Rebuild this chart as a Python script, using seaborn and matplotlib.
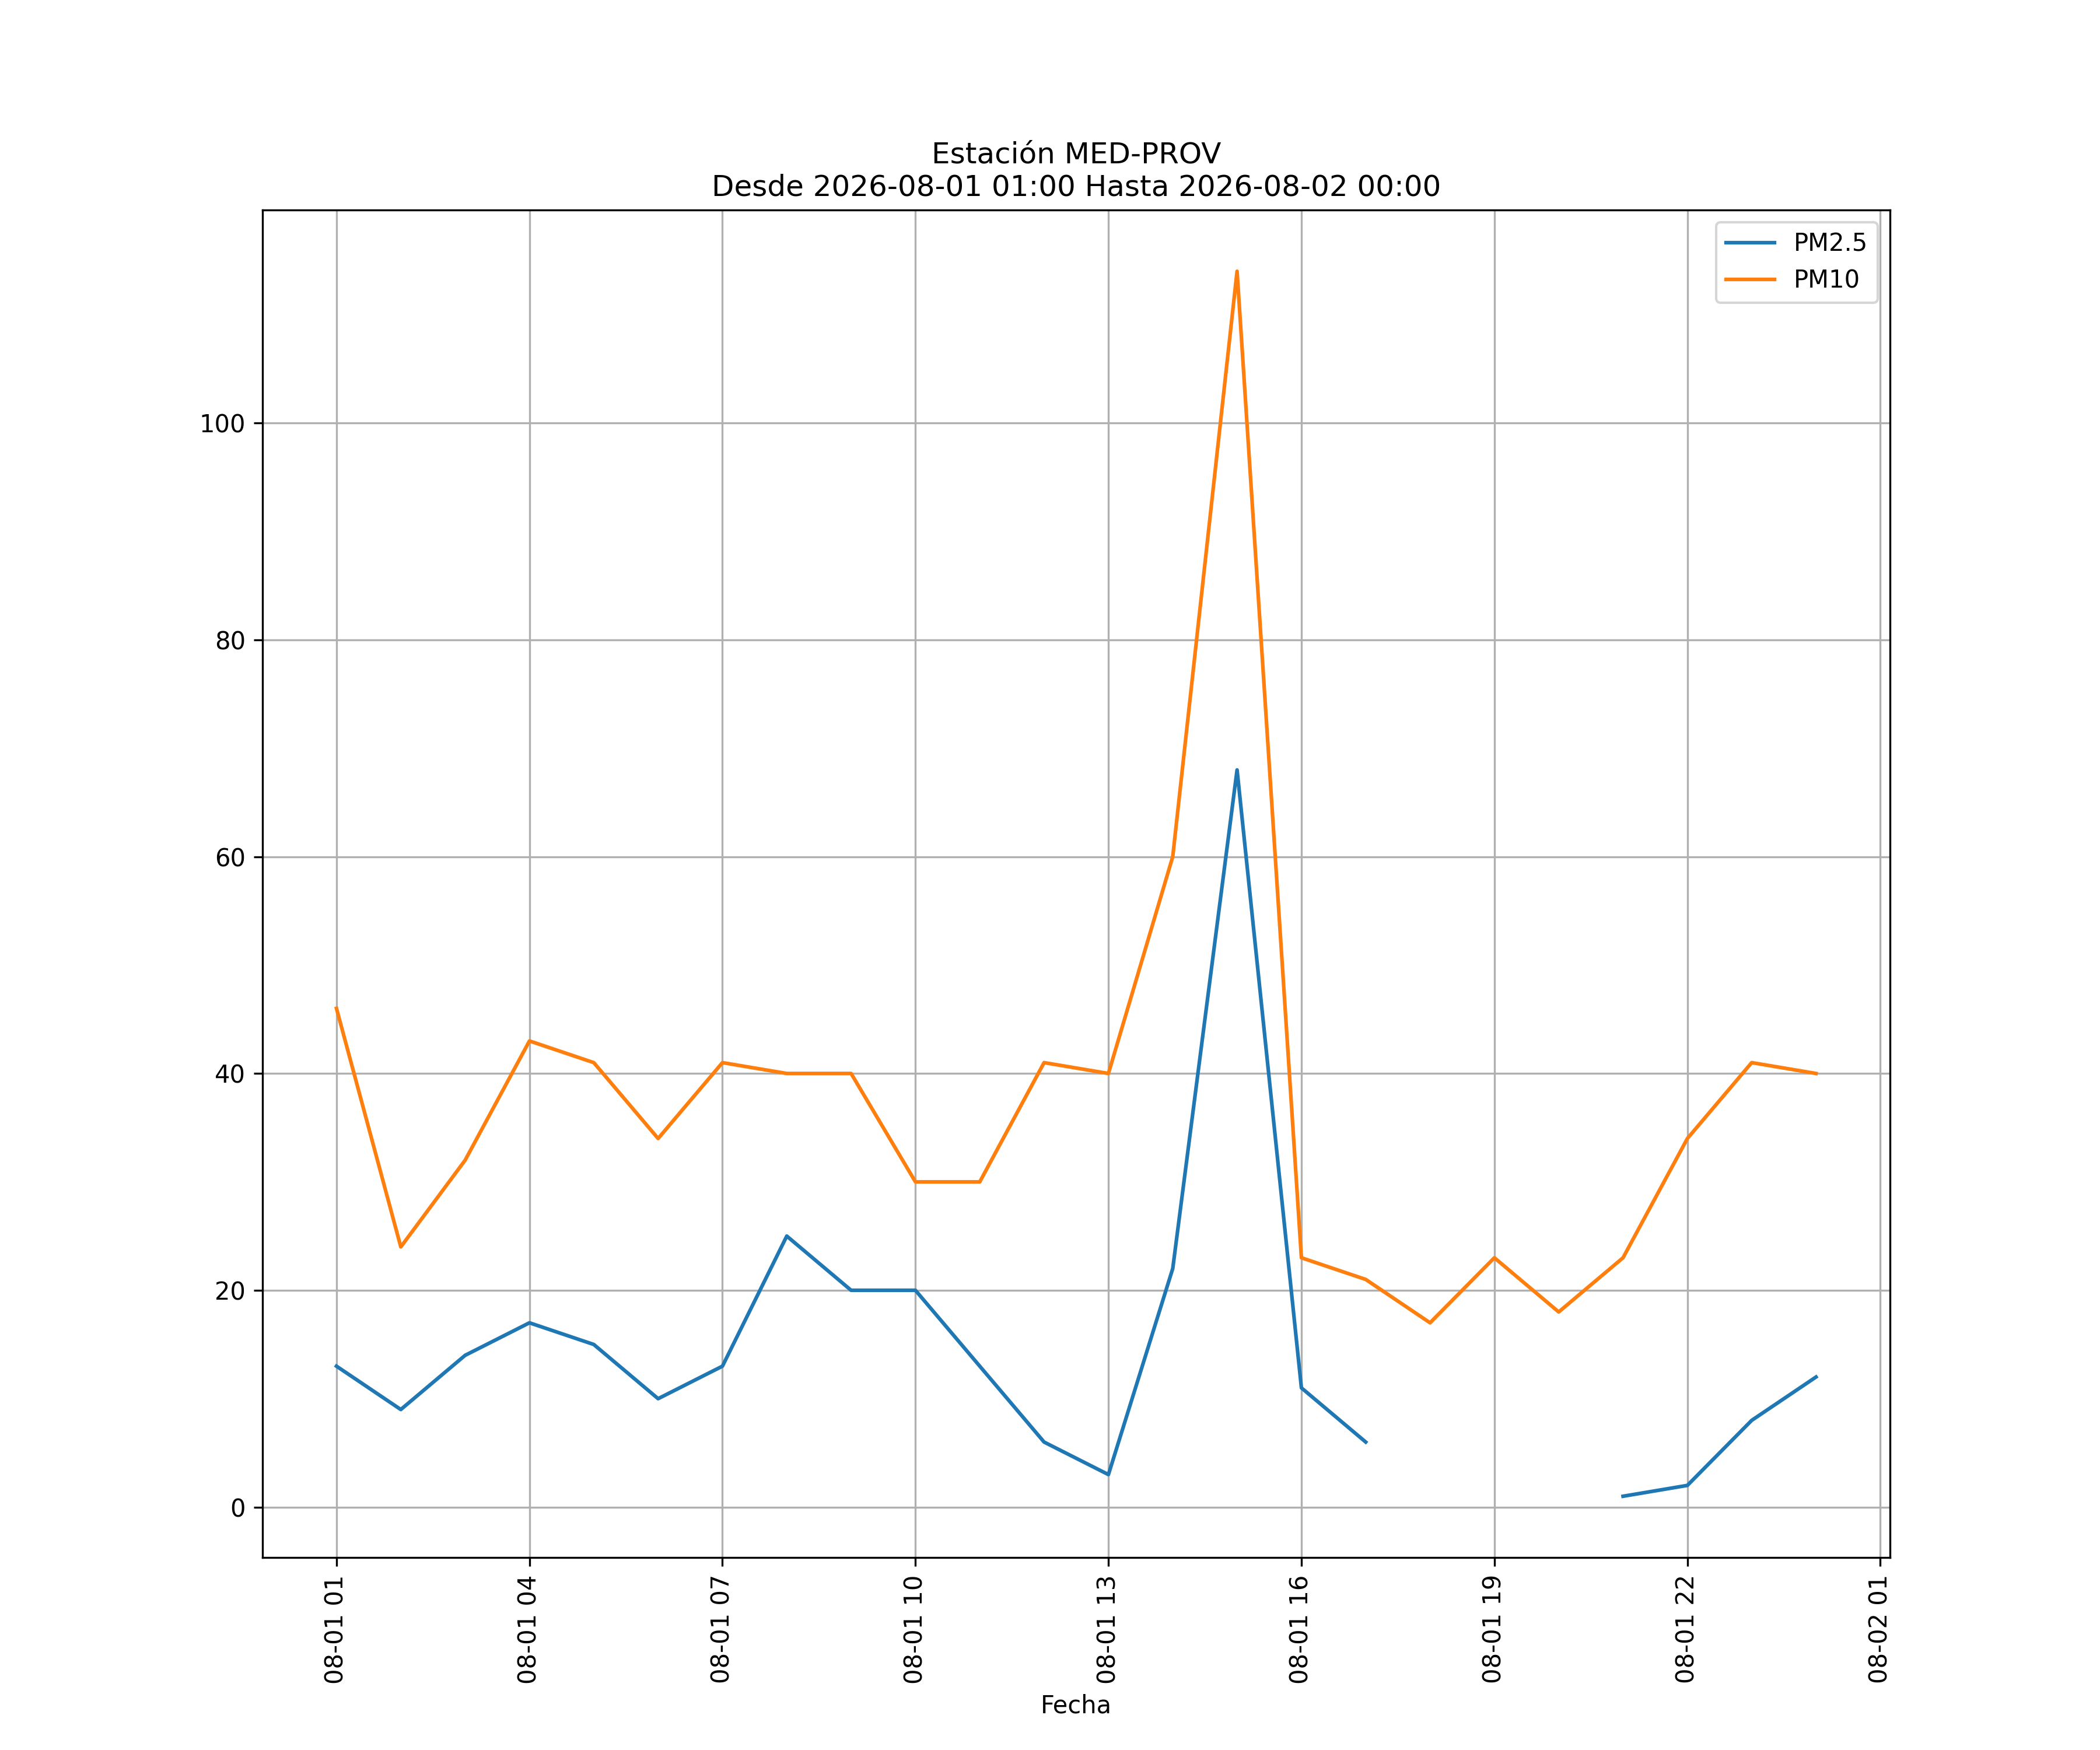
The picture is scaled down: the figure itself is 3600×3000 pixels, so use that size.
import numpy as np
import pandas as pd
import matplotlib
matplotlib.use("Agg")
import matplotlib.pyplot as plt
import matplotlib.dates as mdates
import seaborn as sns

fechas = pd.date_range("2026-08-01 01:00", "2026-08-02 00:00", freq="h")
pm25 = [13, 9, 14, 17, 15, 10, 13, 25, 20, 20, 13, 6, 3, 22, 68, 11, 6,
        np.nan, np.nan, np.nan, 1, 2, 8, 12]
pm10 = [46, 24, 32, 43, 41, 34, 41, 40, 40, 30, 30, 41, 40, 60, 114, 23, 21,
        17, 23, 18, 23, 34, 41, 40]

df = pd.DataFrame({"Fecha": fechas, "PM2.5": pm25, "PM10": pm10})

fig, ax = plt.subplots(figsize=(12, 10), dpi=300)
for col, c in [("PM2.5", "#1f77b4"), ("PM10", "#ff7f0e")]:
    s = df[col]
    ok = s.notna()
    grp = s.isna().cumsum()
    first = True
    for g, sub in df[ok].groupby(grp[ok]):
        sns.lineplot(data=sub, x="Fecha", y=col, ax=ax, color=c,
                     label=col if first else None)
        first = False

ax.xaxis.set_major_locator(mdates.HourLocator(byhour=[1, 4, 7, 10, 13, 16, 19, 22]))
ax.xaxis.set_major_formatter(mdates.DateFormatter("%m-%d %H"))
ax.set_xlim(fechas[0] - pd.Timedelta(hours=1.15), fechas[-1] + pd.Timedelta(hours=1.15))
ax.set_ylim(-4.65, 119.65)
plt.setp(ax.get_xticklabels(), rotation=90)
ax.grid(True)
ax.set_xlabel("Fecha")
ax.set_ylabel("")
ax.set_title("Estación MED-PROV\nDesde 2026-08-01 01:00 Hasta 2026-08-02 00:00")
ax.legend(loc="upper right")
fig.savefig("out.png")
